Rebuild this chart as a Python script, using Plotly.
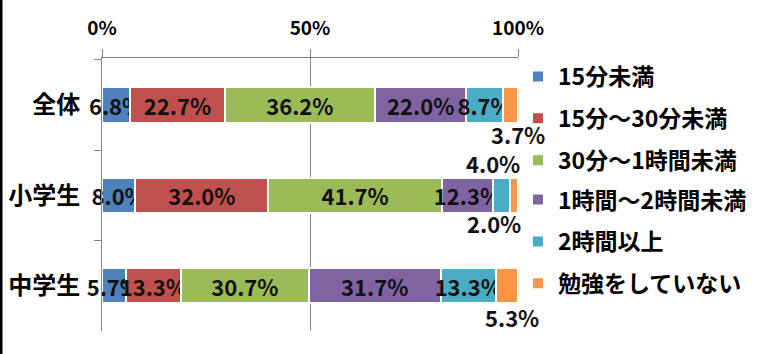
import plotly.graph_objects as go

categories = ["全体", "小学生", "中学生"]
series_names = ["15分未満", "15分～30分未満", "30分～1時間未満",
                "1時間～2時間未満", "2時間以上", "勉強をしていない"]
v_under15 = [6.8, 8.0, 5.7]
v_15_30 = [22.7, 32.0, 13.3]
v_30_60 = [36.2, 41.7, 30.7]
v_1h_2h = [22.0, 12.3, 31.7]
v_over2h = [8.7, 4.0, 13.3]
v_none = [3.7, 2.0, 5.3]
x_tick_vals = [0, 50, 100]
x_tick_text = ["0%", "50%", "100%"]

series_values = [v_under15, v_15_30, v_30_60, v_1h_2h, v_over2h, v_none]
colors = ["#4F81BD", "#C0504D", "#9BBB59", "#8064A2", "#4BACC6", "#F79646"]

# labels drawn outside the bar: (series index, category index, xshift, yshift)
outside = [(5, 0, 8, -29), (4, 1, -8, 32), (5, 1, -20, -28), (5, 2, 5, -31)]
outside_keys = {(s, c) for s, c, _, _ in outside}

FONT = "Noto Sans CJK JP"
W, H = 760, 354
ML, MR, MT, MB = 102, 242, 58, 23

fig = go.Figure()
for si, (name, vals) in enumerate(zip(series_names, series_values)):
    texts = ["" if (si, ci) in outside_keys else f"{v:.1f}%" for ci, v in enumerate(vals)]
    fig.add_trace(go.Bar(
        y=categories, x=vals, name=name, orientation="h",
        marker=dict(color=colors[si], line=dict(color="white", width=2)),
        text=texts, textposition="inside", insidetextanchor="middle",
        textangle=0, cliponaxis=False,
        insidetextfont=dict(family=FONT, size=22, color="#111111", weight=700),
        legendgroup=f"g{si}", legend="legend" if si < 3 else "legend2",
        hoverinfo="skip",
    ))

# annotations for small segments, placed from the normalized cumulative data
annotations = []
for si, ci, dx, dy in outside:
    total = sum(series_values[k][ci] for k in range(len(series_values)))
    start = sum(series_values[k][ci] for k in range(si))
    center = (start + series_values[si][ci] / 2) / total * 100
    annotations.append(dict(
        x=center, y=categories[ci], xref="x", yref="y",
        text=f"{series_values[si][ci]:.1f}%", showarrow=False,
        xshift=dx, yshift=dy,
        font=dict(family=FONT, size=22, color="#111111", weight=700),
    ))

pw = W - ML - MR
ph = H - MT - MB
shapes = [dict(type="line", xref="paper", yref="paper",
               x0=-(ML - 1) / pw, x1=-(ML - 1) / pw,
               y0=-MB / ph, y1=1 + MT / ph,
               line=dict(color="black", width=3))]

legend_style = dict(x=1.0, xanchor="left", yanchor="top",
                    traceorder="grouped", tracegroupgap=9,
                    font=dict(family=FONT, size=23, color="black", weight=700),
                    bgcolor="rgba(0,0,0,0)", borderwidth=0)

fig.update_layout(
    width=W, height=H,
    margin=dict(l=ML, r=MR, t=MT, b=MB, pad=0, autoexpand=False),
    barmode="stack", barnorm="percent", bargap=0.61,
    paper_bgcolor="white", plot_bgcolor="white",
    font=dict(family=FONT, color="black"),
    uniformtext=dict(minsize=22, mode="show"),
    xaxis=dict(side="top", range=[0, 100], tickvals=x_tick_vals, ticktext=x_tick_text,
               showgrid=True, gridcolor="#868686", gridwidth=1,
               showline=True, linecolor="#7a7a7a", linewidth=1,
               ticks="outside", ticklen=8, tickcolor="#868686",
               zeroline=False, ticklabelstandoff=6, automargin=False,
               tickfont=dict(family=FONT, size=19, color="black", weight=700)),
    yaxis=dict(categoryorder="array", categoryarray=categories, autorange="reversed",
               showline=True, linecolor="#868686", linewidth=1,
               ticks="outside", tickson="boundaries", ticklen=7, tickcolor="#868686",
               showgrid=False, ticklabelstandoff=16, automargin=False,
               tickfont=dict(family=FONT, size=24, color="black", weight=700)),
    legend=dict(legend_style, y=1.011),
    legend2=dict(legend_style, y=0.560),
    annotations=annotations,
    shapes=shapes,
)

fig.write_html("out.html")
